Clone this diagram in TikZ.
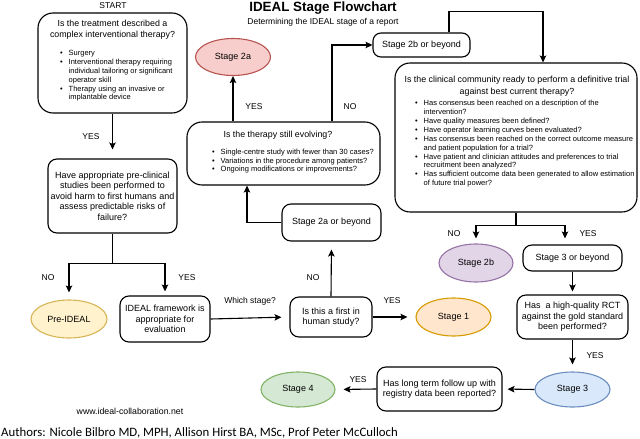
\documentclass[tikz,border=0pt]{standalone}
\usepackage{fontspec}
\setmainfont{Liberation Sans}
\newfontfamily\calfont{Carlito}
\usetikzlibrary{shapes.geometric,arrows.meta,calc}
\definecolor{redF}{HTML}{F8CECC}\definecolor{redD}{HTML}{B85450}
\definecolor{yelF}{HTML}{FFF2CC}\definecolor{yelD}{HTML}{D6B656}
\definecolor{orgF}{HTML}{FFE6CC}\definecolor{orgD}{HTML}{D79B00}
\definecolor{purF}{HTML}{E1D5E7}\definecolor{purD}{HTML}{9673A6}
\definecolor{bluF}{HTML}{DAE8FC}\definecolor{bluD}{HTML}{6C8EBF}
\definecolor{grnF}{HTML}{D5E8D4}\definecolor{grnD}{HTML}{82B366}
\newcommand{\myb}{\makebox[8.5pt][l]{\textbullet}}
\newcommand{\myi}{\hspace*{8.5pt}}
\tikzset{
  box/.style={draw=black, line width=1.1pt, rounded corners=9pt, inner sep=0pt},
  bigbox/.style={box, rounded corners=15pt},
  ell/.style={ellipse, draw, line width=1.1pt, inner sep=0pt, font=\fontsize{9}{10.6}\selectfont},
  txt/.style={font=\fontsize{9}{10.6}\selectfont, align=center, inner sep=0pt},
  ttl/.style={font=\fontsize{8.85}{11}\selectfont, align=center, inner sep=0pt},
  lbl/.style={font=\fontsize{8.5}{10}\selectfont, inner sep=0pt},
  blist/.style={font=\fontsize{7.5}{9}\selectfont, align=left, inner sep=0pt, anchor=north west},
  arr/.style={-{Stealth[length=7pt,width=6.5pt,inset=1.5pt]}, line width=1.1pt},
  con/.style={line width=1.1pt},
}
\begin{document}
\begin{tikzpicture}[x=1pt,y=-1pt]
\useasboundingbox (0,0) rectangle (640,439);
\fill[white] (0,0) rectangle (640,439);

% titles
\node[inner sep=0pt, font=\bfseries\fontsize{13.4}{15}\selectfont] (title) at (323,8) {IDEAL Stage Flowchart};
\node[inner sep=0pt, font=\fontsize{8.5}{10}\selectfont] (subtitle) at (323,22) {Determining the IDEAL stage of a report};
\node[lbl] (start) at (113,6) {START};

% box 1
\node[bigbox, minimum width=149pt, minimum height=100pt] (b1) at (112.5,63) {};
\node[ttl] (b1t) at (112.5,30) {Is the treatment described a\\complex interventional therapy?};
\node[blist, font=\fontsize{7.5}{8.9}\selectfont] (b1l) at (60,50) {\myb Surgery\\
\myb Interventional therapy requiring\\
\myi individual tailoring or significant\\
\myi operator skill\\
\myb Therapy using an invasive or\\
\myi implantable device};

% box 2
\node[box, txt, minimum width=129pt, minimum height=74pt] (b2) at (112.5,196) {Have appropriate pre-clinical\\studies been performed to\\avoid harm to first humans and\\assess predictable risks of\\failure?};

% pre-IDEAL and IDEAL framework
\node[ell, fill=yelF, draw=yelD, minimum width=76pt, minimum height=38pt] (prei) at (69,319) {Pre-IDEAL};
\node[box, txt, minimum width=90pt, minimum height=46pt] (ideal) at (165,319) {IDEAL framework is\\appropriate for\\evaluation};

% first in human
\node[box, txt, minimum width=82pt, minimum height=40pt] (first) at (331,317) {Is this a first in\\human study?};
\node[ell, fill=orgF, draw=orgD, minimum width=75pt, minimum height=38pt] (st1) at (453.5,317) {Stage 1};

% stage 2a or beyond
\node[box, txt, minimum width=99pt, minimum height=37pt] (s2ab) at (331.5,222.5) {Stage 2a or beyond};

% evolving box
\node[bigbox, minimum width=193pt, minimum height=63pt] (ev) at (283.5,153.5) {};
\node[ttl] (evt) at (278,135) {Is the therapy still evolving?};
\node[blist, font=\fontsize{7.5}{8.6}\selectfont] (evl) at (212,149) {\myb Single-centre study with fewer than 30 cases?\\
\myb Variations in the procedure among patients?\\
\myb Ongoing modifications or improvements?};

% stage 2a
\node[ell, fill=redF, draw=redD, minimum width=75pt, minimum height=37pt] (s2a) at (233,57) {Stage 2a};

% stage 2b or beyond
\node[box, txt, rounded corners=8pt, minimum width=97pt, minimum height=24pt] (s2bb) at (421.5,45) {Stage 2b or beyond};

% big box
\node[bigbox, minimum width=242pt, minimum height=149pt] (big) at (516,137.5) {};
\node[ttl, font=\fontsize{8.85}{11.7}\selectfont] (bigt) at (517,86) {Is the clinical community ready to perform a definitive trial\\against best current therapy?};
\node[blist, font=\fontsize{7.5}{8.9}\selectfont] (bigl) at (415,100) {\myb Has consensus been reached on a description of the\\
\myi intervention?\\
\myb Have quality measures been defined?\\
\myb Have operator learning curves been evaluated?\\
\myb Has consensus been reached on the correct outcome measure\\
\myi and patient population for a trial?\\
\myb Have patient and clinician attitudes and preferences to trial\\
\myi recruitment been analyzed?\\
\myb Has sufficient outcome data been generated to allow estimation\\
\myi of future trial power?};

% stage 2b, stage 3 or beyond
\node[ell, fill=purF, draw=purD, minimum width=74pt, minimum height=38pt] (s2b) at (476,263) {Stage 2b};
\node[box, txt, minimum width=99pt, minimum height=26pt] (s3b) at (572.5,258) {Stage 3 or beyond};

% RCT
\node[box, txt, minimum width=111pt, minimum height=44pt] (rct) at (572.5,317) {Has \ a high-quality RCT\\against the gold standard\\been performed?};
\node[ell, fill=bluF, draw=bluD, minimum width=75pt, minimum height=35pt] (st3) at (572.5,389.5) {Stage 3};

% long term
\node[box, txt, minimum width=125pt, minimum height=44pt] (lt) at (439.5,389) {Has long term follow up with\\registry data been reported?};
\node[ell, fill=grnF, draw=grnD, minimum width=74pt, minimum height=35pt] (st4) at (298,389.5) {Stage 4};

% footer
\node[inner sep=0pt, font=\fontsize{8.75}{10}\selectfont] (web) at (130,411) {www.ideal-collaboration.net};
\node[inner sep=0pt, anchor=base west, font=\calfont\fontsize{12.8}{14}\selectfont] (auth) at (1,436.5) {Authors: Nicole Bilbro MD, MPH, Allison Hirst BA, MSc, Prof Peter McCulloch};

% connectors
\draw[arr, shorten >=9pt] (b1.south) -- (b2.north);
\node[lbl] (l1) at (91,137) {YES};

\coordinate (sp1) at ($(b2.south)+(0,30)$);
\draw[con] (b2.south) -- (sp1);
\draw[arr, shorten >=7pt] (sp1) -| (prei.north);
\draw[arr, shorten >=4pt] (sp1) -| (ideal.north);
\node[lbl] (l2) at (48,278) {NO};
\node[lbl] (l3) at (187,278) {YES};

\draw[arr, shorten >=8pt] (ideal.east) -- (first.west);
\node[lbl] (l4) at (250,301) {Which stage?};

\draw[arr, shorten >=8pt] (first.north) -- (s2ab.south);
\node[lbl] (l5) at (313,278) {NO};

\draw[arr] (s2ab.west) -| ([xshift=-36.5pt]ev.south);

\draw[arr] (s2a.south |- ev.north) -- (s2a.south);
\node[lbl] (l6) at (254,107) {YES};

\draw[arr] ([xshift=48.5pt]ev.north) |- (s2bb.west);
\node[lbl] (l7) at (350,107) {NO};

\draw[arr] ([xshift=27.5pt]s2bb.north) -- ++(0,-21) -| ([xshift=27pt]big.north);

\coordinate (sp2) at ($(big.south)+(0,13)$);
\draw[con] (big.south) -- (sp2);
\draw[arr, shorten >=5pt] (sp2) -| (s2b.north);
\draw[arr, shorten >=6pt] (sp2) -| ([xshift=-7.5pt]s3b.north);
\node[lbl] (l8) at (454,234) {NO};
\node[lbl] (l9) at (588,234) {YES};

\draw[arr, shorten >=3pt] (s3b.south) -- (rct.north);
\draw[arr, shorten >=7pt] (rct.south) -- (st3.north);
\node[lbl] (l10) at (595,356) {YES};

\draw[arr, shorten >=5pt] (st3.west) -- (lt.east);
\draw[arr, shorten >=8pt] (lt.west) -- (st4.east);
\node[lbl] (l11) at (358,380) {YES};

\draw[arr, shorten >=8pt] (first.east) -- (st1.west);
\node[lbl] (l12) at (392,301) {YES};
\end{tikzpicture}
\end{document}
